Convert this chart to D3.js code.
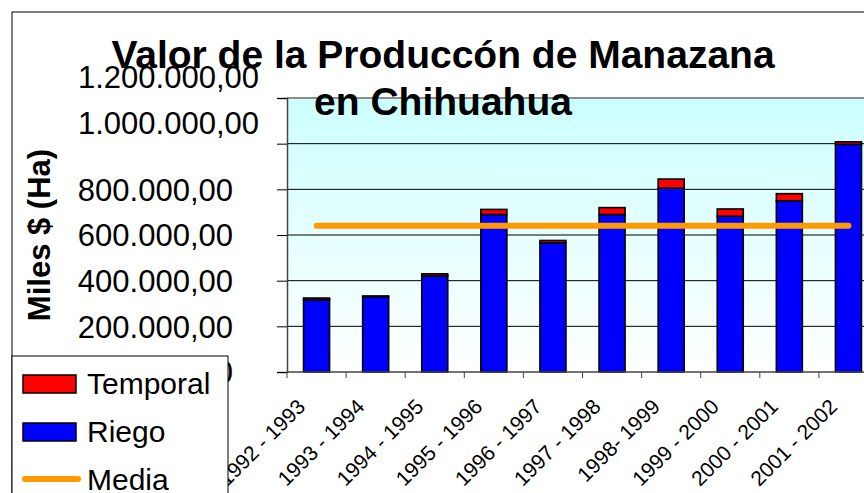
<!DOCTYPE html>
<html>
<head>
<meta charset="utf-8">
<script src="https://cdn.jsdelivr.net/npm/d3@7"></script>
<style>
  html, body { margin: 0; padding: 0; background: #fff; }
  svg { display: block; font-family: "Liberation Sans", Arial, sans-serif; }
</style>
</head>
<body>
<svg id="chart"></svg>
<script>
// Datos
const periodos = ["1992 - 1993", "1993 - 1994", "1994 - 1995", "1995 - 1996", "1996 - 1997",
                  "1997 - 1998", "1998- 1999", "1999 - 2000", "2000 - 2001", "2001 - 2002"];
const riego    = [316000, 330000, 421000, 690000, 566000, 690000, 805000, 682000, 750000, 997000];
const temporal = [8000, 3000, 9000, 22000, 10000, 30000, 40000, 32000, 31000, 11000];
const media    = [640000, 640000, 640000, 640000, 640000, 640000, 640000, 640000, 640000, 640000];
const yTicks   = [0, 200000, 400000, 600000, 800000, 1000000, 1200000];
const series   = ["Riego", "Temporal"];
const colores  = { Riego: "#0000ff", Temporal: "#ff0000", Media: "#ff9900" };

const width = 864, height = 493;
const margin = { top: 98, right: -14, bottom: 121, left: 287 };

const svg = d3.select("#chart").attr("width", width).attr("height", height);

// tabla para el apilado
const tabla = periodos.map((p, i) => ({ periodo: p, Riego: riego[i], Temporal: temporal[i] }));
const stacked = d3.stack().keys(series)(tabla);

const x = d3.scaleBand()
    .domain(periodos)
    .range([margin.left, width - margin.right])
    .paddingInner(0.56)
    .paddingOuter(0.28);

const y = d3.scaleLinear()
    .domain([0, 1200000])
    .range([height - margin.bottom, margin.top]);

const es = d3.formatLocale({ decimal: ",", thousands: ".", grouping: [3], currency: ["$", ""] });
const fmt = es.format(",.2f");

// marco exterior
svg.append("rect")
    .attr("x", 12).attr("y", 12)
    .attr("width", width + 20).attr("height", height + 20)
    .attr("fill", "none").attr("stroke", "#000").attr("stroke-width", 1);

// fondo del área de trazado (degradado)
const grad = svg.append("defs").append("linearGradient")
    .attr("id", "fondo").attr("x1", 0).attr("y1", 0).attr("x2", 0).attr("y2", 1);
grad.append("stop").attr("offset", "0%").attr("stop-color", "#ccffff");
grad.append("stop").attr("offset", "100%").attr("stop-color", "#ffffff");

svg.append("rect")
    .attr("x", margin.left).attr("y", y(1200000))
    .attr("width", width - margin.left + 20).attr("height", y(0) - y(1200000))
    .attr("fill", "url(#fondo)");

svg.append("line")
    .attr("x1", margin.left).attr("x2", width + 10)
    .attr("y1", y(1200000)).attr("y2", y(1200000))
    .attr("stroke", "#8c8c8c").attr("stroke-width", 2);

// líneas de división
svg.append("g")
    .selectAll("line")
    .data(yTicks.filter(d => d > 0 && d < 1200000))
    .enter()
    .append("line")
    .attr("x1", margin.left).attr("x2", width + 10)
    .attr("y1", d => y(d)).attr("y2", d => y(d))
    .attr("stroke", "#000").attr("stroke-width", 1);

// barras apiladas
svg.append("g")
    .selectAll("g")
    .data(stacked)
    .enter()
    .append("g")
    .attr("fill", d => colores[d.key])
    .selectAll("rect")
    .data(d => d)
    .enter()
    .append("rect")
    .attr("x", d => x(d.data.periodo))
    .attr("y", d => y(d[1]))
    .attr("width", x.bandwidth())
    .attr("height", d => y(d[0]) - y(d[1]))
    .attr("stroke", "#000")
    .attr("stroke-width", 1.6);

// eje Y
const yAxis = svg.append("g")
    .attr("transform", `translate(${margin.left},0)`)
    .call(d3.axisLeft(y).tickValues(yTicks).tickSize(10).tickFormat(fmt));
yAxis.select(".domain").attr("stroke", "#444").attr("stroke-width", 1.5);
yAxis.selectAll(".tick line").attr("stroke", "#000");
yAxis.selectAll(".tick text")
    .attr("font-family", "Liberation Sans, Arial, sans-serif")
    .attr("font-size", 31)
    .attr("fill", "#000")
    .attr("x", d => d >= 1000000 ? -28 : -54)
    .attr("dy", d => d >= 1000000 ? "-0.33em" : "0.35em");

// eje X
const xAxis = svg.append("g")
    .attr("transform", `translate(0,${y(0)})`);
xAxis.append("line")
    .attr("x1", margin.left).attr("x2", width + 10)
    .attr("y1", 0).attr("y2", 0)
    .attr("stroke", "#444").attr("stroke-width", 1.5);
xAxis.selectAll("line.tick")
    .data(periodos)
    .enter()
    .append("line")
    .attr("class", "tick")
    .attr("x1", d => x(d) - x.step() * x.paddingInner() / 2)
    .attr("x2", d => x(d) - x.step() * x.paddingInner() / 2)
    .attr("y1", 0).attr("y2", 6)
    .attr("stroke", "#444");
xAxis.selectAll("text")
    .data(periodos)
    .enter()
    .append("text")
    .attr("transform", d => `translate(${x(d) + x.bandwidth() / 2 - 10},36) rotate(-45)`)
    .attr("text-anchor", "end")
    .attr("font-size", 21)
    .attr("fill", "#000")
    .text(d => d);

// línea de la media
const linea = d3.line()
    .x((d, i) => x(periodos[i]) + x.bandwidth() / 2)
    .y(d => y(d));
svg.append("path")
    .datum(media)
    .attr("d", linea)
    .attr("fill", "none")
    .attr("stroke", colores.Media)
    .attr("stroke-width", 6)
    .attr("stroke-linecap", "round");

// título del eje Y
svg.append("text")
    .attr("transform", `translate(50,235) rotate(-90)`)
    .attr("text-anchor", "middle")
    .attr("font-size", 31)
    .attr("font-weight", "bold")
    .text("Miles $ (Ha)");

// título
const titulo = svg.append("text")
    .attr("text-anchor", "middle")
    .attr("font-size", 39)
    .attr("font-weight", "bold");
titulo.append("tspan").attr("x", 443).attr("y", 68).text("Valor de la Produccón de Manazana");
titulo.append("tspan").attr("x", 443).attr("y", 115).text("en Chihuahua");

// leyenda
const legendItems = ["Temporal", "Riego", "Media"];
const legend = svg.append("g").attr("transform", "translate(12,356)");
legend.append("rect")
    .attr("width", 216).attr("height", 160)
    .attr("fill", "#fff").attr("stroke", "#000").attr("stroke-width", 1);
const item = legend.selectAll("g.item")
    .data(legendItems)
    .enter()
    .append("g")
    .attr("class", "item")
    .attr("transform", (d, i) => `translate(0,${27 + i * 48})`);
item.filter(d => d !== "Media")
    .append("rect")
    .attr("x", 11).attr("y", -8)
    .attr("width", 53).attr("height", 18)
    .attr("fill", d => colores[d])
    .attr("stroke", "#000").attr("stroke-width", 1.5);
item.filter(d => d === "Media")
    .append("line")
    .attr("x1", 13).attr("x2", 66)
    .attr("y1", 0).attr("y2", 0)
    .attr("stroke", colores.Media)
    .attr("stroke-width", 6)
    .attr("stroke-linecap", "round");
item.append("text")
    .attr("x", 75).attr("y", 11)
    .attr("font-size", 30)
    .text(d => d);
</script>
</body>
</html>
